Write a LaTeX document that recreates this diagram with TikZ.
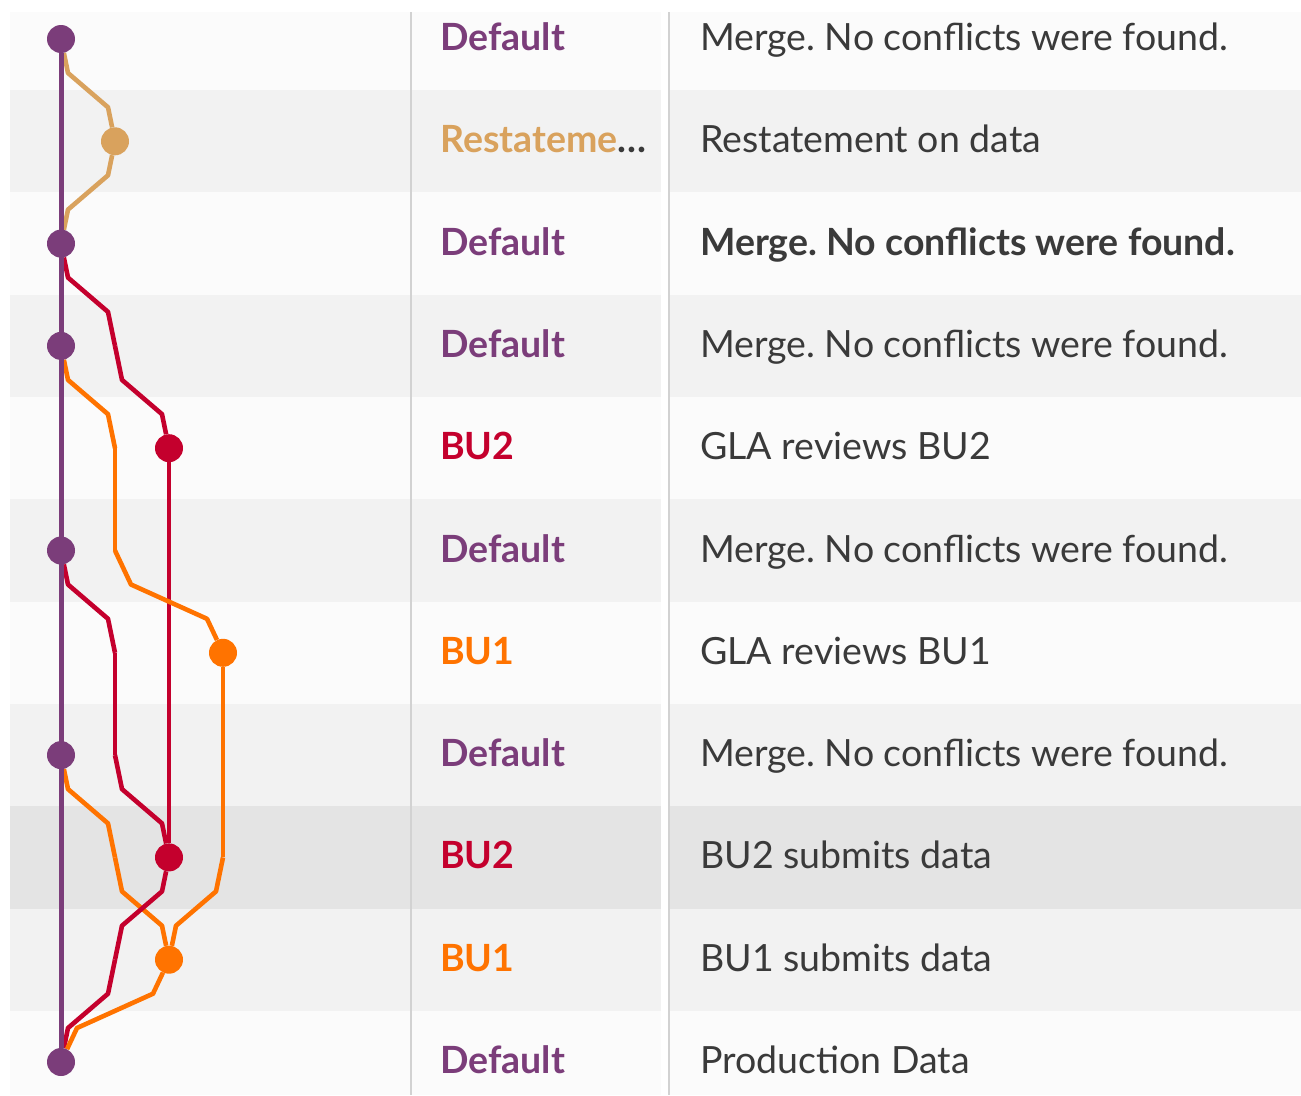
\documentclass[tikz,border=0pt]{standalone}
\usepackage{fontspec}
\setmainfont{Lato}
\frenchspacing
\usetikzlibrary{calc,positioning}

\definecolor{DefaultPurple}{HTML}{7B3D7A}
\definecolor{RestateTan}{HTML}{D9A25D}
\definecolor{BUtwoRed}{HTML}{C4002D}
\definecolor{BUoneOrange}{HTML}{FF7300}
\definecolor{MsgGray}{HTML}{3A3A3A}
\definecolor{RowLight}{HTML}{FBFBFB}
\definecolor{RowGray}{HTML}{F2F2F2}
\definecolor{RowSel}{HTML}{E4E4E4}
\definecolor{SepGray}{HTML}{D2D2D2}

\pgfdeclarelayer{rows}
\pgfdeclarelayer{lines}
\pgfsetlayers{rows,lines,main}

\begin{document}
\begin{tikzpicture}[x=1pt,y=-1pt,
			commit/.style={
				circle, inner sep=0pt, minimum size=28pt},
			branch node/.style={
				anchor=base west, inner sep=0pt,
				font=\fontsize{37.5}{40}\selectfont\bfseries},
			msg node/.style={
				anchor=base west, inner sep=0pt, text=MsgGray,
				font=\fontsize{37.5}{40}\selectfont},
			lane/.style={
				to path={-- ($(\tikztostart)+(#1,34)$)
					-- ($(\tikztotarget)-(#1,34)$) -- (\tikztotarget)}},
			link/.style={line width=4.6pt, line join=round}
			]
			\useasboundingbox (0,0) rectangle (1301,1095);
			
			% table rows
			\begin{pgfonlayer}{rows}
			\fill[RowLight] (10,12) rectangle (1301,1095);
			\fill[RowGray] (10,90.15) rectangle (1301,192.45);
			\fill[RowGray] (10,294.75) rectangle (1301,397.05);
			\fill[RowGray] (10,499.35) rectangle (1301,601.65);
			\fill[RowGray] (10,703.95) rectangle (1301,806.25);
			\fill[RowSel] (10,806.25) rectangle (1301,908.55);
			\fill[RowGray] (10,908.55) rectangle (1301,1010.85);
			\fill[white] (661,12) rectangle (668,1095);
			\draw[SepGray, line width=1.5pt] (411,12) -- (411,1095);
			\draw[SepGray, line width=1.5pt] (669,12) -- (669,1095);
			\end{pgfonlayer}
			
			% commits
			\node[commit, fill=DefaultPurple] (d0) at (61,39) {};
			\node[commit, fill=RestateTan] (t1) at (115,141.3) {};
			\node[commit, fill=DefaultPurple] (d2) at (61,243.6) {};
			\node[commit, fill=DefaultPurple] (d3) at (61,345.9) {};
			\node[commit, fill=BUtwoRed] (r4) at (169,448.2) {};
			\node[commit, fill=DefaultPurple] (d5) at (61,550.5) {};
			\node[commit, fill=BUoneOrange] (o6) at (223,652.8) {};
			\node[commit, fill=DefaultPurple] (d7) at (61,755.1) {};
			\node[commit, fill=BUtwoRed] (r8) at (169,857.4) {};
			\node[commit, fill=BUoneOrange] (o9) at (169,959.7) {};
			\node[commit, fill=DefaultPurple] (d10) at (61,1062) {};
			
			% where a branch line crosses a row without a commit
			\coordinate (r3) at (115,345.9);
			\coordinate (o4) at (115,448.2);
			\coordinate (o5) at (115,550.5);
			\coordinate (r6) at (115,652.8);
			\coordinate (r7) at (115,755.1);
			\coordinate (o8) at (223,857.4);
			\coordinate (s8) at (115,857.4);
			\coordinate (r9) at (115,959.7);
			
			% branch names
			\node[branch node, text=DefaultPurple] (b0) at (440,50.5) {Default};
			\node[branch node] (b1) at (440,152.8)
			{\textcolor{RestateTan}{Restateme}\textcolor{MsgGray}{…}};
			\node[branch node, text=DefaultPurple] (b2) at (440,255.1) {Default};
			\node[branch node, text=DefaultPurple] (b3) at (440,357.4) {Default};
			\node[branch node, text=BUtwoRed] (b4) at (440,459.7) {BU2};
			\node[branch node, text=DefaultPurple] (b5) at (440,562) {Default};
			\node[branch node, text=BUoneOrange] (b6) at (440,664.3) {BU1};
			\node[branch node, text=DefaultPurple] (b7) at (440,766.6) {Default};
			\node[branch node, text=BUtwoRed] (b8) at (440,868.9) {BU2};
			\node[branch node, text=BUoneOrange] (b9) at (440,971.2) {BU1};
			\node[branch node, text=DefaultPurple] (b10) at (440,1073.5) {Default};
			
			% commit messages
			\node[msg node] (m0) at (700,50.5) {Merge. No conflicts were found.};
			\node[msg node] (m1) at (700,152.8) {Restatement on data};
			\node[msg node, font=\fontsize{37.5}{40}\selectfont\bfseries] (m2) at (700,255.1)
			{Merge. No conflicts were found.};
			\node[msg node] (m3) at (700,357.4) {Merge. No conflicts were found.};
			\node[msg node] (m4) at (700,459.7) {GLA reviews BU2};
			\node[msg node] (m5) at (700,562) {Merge. No conflicts were found.};
			\node[msg node] (m6) at (700,664.3) {GLA reviews BU1};
			\node[msg node] (m7) at (700,766.6) {Merge. No conflicts were found.};
			\node[msg node] (m8) at (700,868.9) {BU2 submits data};
			\node[msg node] (m9) at (700,971.2) {BU1 submits data};
			\node[msg node] (m10) at (700,1073.5) {Production Data};
			
			% graph lines, under the commits
			\begin{pgfonlayer}{lines}
			\path[every edge/.append style={link}]
			(d0) edge[RestateTan, lane=7] (t1)
			(t1) edge[RestateTan, lane=-7] (d2)
			(d2) edge[BUtwoRed, lane=7] (r3)
			(r3) edge[BUtwoRed, lane=7] (r4)
			(r4) edge[BUtwoRed] (r8)
			(d3) edge[BUoneOrange, lane=7] (o4)
			(o4) edge[BUoneOrange] (o5)
			(o5) edge[BUoneOrange, lane=16] (o6)
			(o6) edge[BUoneOrange] (o8)
			(o8) edge[BUoneOrange, lane=-7] (o9)
			(d5) edge[BUtwoRed, lane=7] (r6)
			(r6) edge[BUtwoRed] (r7)
			(r7) edge[BUtwoRed, lane=7] (r8)
			(d7) edge[BUoneOrange, lane=7] (s8)
			(s8) edge[BUoneOrange, lane=7] (o9)
			(r8) edge[BUtwoRed, lane=-7] (r9)
			(r9) edge[BUtwoRed, lane=-7] (d10)
			(o9) edge[BUoneOrange, lane=-16] (d10)
			(d0) edge[DefaultPurple, line width=5pt] (d10);
			\end{pgfonlayer}
		\end{tikzpicture}
\end{document}
